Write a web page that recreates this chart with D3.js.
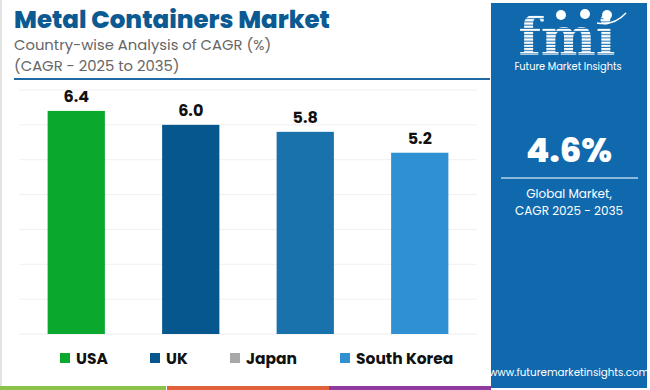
<!DOCTYPE html>
<html>
<head>
<meta charset="utf-8">
<script src="https://cdn.jsdelivr.net/npm/d3@7"></script>
<style>
  body { margin: 0; background: #fff; }
  svg { display: block; font-family: Poppins, "Open Sans", Inter, sans-serif; }
</style>
</head>
<body>
<div id="chart"></div>
<script>
// données du graphique
const countries = ['USA', 'UK', 'Japan', 'South Korea'];
const cagr = [6.4, 6.0, 5.8, 5.2];
const barColors = ['#0aa92e', '#05578e', '#1a72ad', '#2f90d2'];
const legendColors = ['#0aa92e', '#05578e', '#a8a8a8', '#2f90d2'];
const gridTicks = [1, 2, 3, 4, 5, 6, 7];

const width = 650, height = 390;
const svg = d3.select('#chart').append('svg')
    .attr('width', width).attr('height', height);

// bordure gauche légère
svg.append('rect').attr('x', 0).attr('y', 0).attr('width', 2).attr('height', 386).attr('fill', '#e2e2e2');

// titre
svg.append('text').attr('x', 14).attr('y', 28)
    .attr('font-size', 24.5).attr('font-weight', 800).attr('fill', '#0b5a91')
    .text('Metal Containers Market');
svg.append('text').attr('x', 14).attr('y', 50)
    .attr('font-size', 14.8).attr('fill', '#666')
    .text('Country-wise Analysis of CAGR (%)');
svg.append('text').attr('x', 14).attr('y', 71)
    .attr('font-size', 14.8).attr('fill', '#666')
    .text('(CAGR - 2025 to 2035)');
svg.append('line').attr('x1', 14).attr('x2', 490).attr('y1', 79).attr('y2', 79)
    .attr('stroke', '#1f6aa5').attr('stroke-width', 2);

// échelles
const x = d3.scaleBand().domain(countries).range([19, 477])
    .paddingInner(0.5).paddingOuter(0.25);
const y = d3.scaleLinear().domain([0, 7]).range([334, 90]);

// grille
svg.append('g').selectAll('line').data(gridTicks).enter().append('line')
    .attr('x1', 19).attr('x2', 477)
    .attr('y1', d => y(d)).attr('y2', d => y(d))
    .attr('stroke', '#f0f0f0').attr('stroke-width', 1);
svg.append('line').attr('x1', 19).attr('x2', 477).attr('y1', y(0)).attr('y2', y(0))
    .attr('stroke', '#eeeeee');

// barres
svg.append('g').selectAll('rect').data(countries).enter().append('rect')
    .attr('x', d => x(d)).attr('width', x.bandwidth())
    .attr('y', (d, i) => y(cagr[i]))
    .attr('height', (d, i) => y(0) - y(cagr[i]))
    .attr('fill', (d, i) => barColors[i]);

// étiquettes de valeur
svg.append('g').selectAll('text').data(countries).enter().append('text')
    .attr('x', d => x(d) + x.bandwidth() / 2)
    .attr('y', (d, i) => y(cagr[i]) - 9)
    .attr('text-anchor', 'middle').attr('font-size', 16).attr('font-weight', 700)
    .attr('fill', '#111')
    .text((d, i) => cagr[i].toFixed(1));

// légende
const legendX = [60, 150, 230, 340];
const legend = svg.append('g').selectAll('g').data(countries).enter().append('g')
    .attr('transform', (d, i) => `translate(${legendX[i]},358)`);
legend.append('rect').attr('x', 0).attr('y', -5).attr('width', 10).attr('height', 10)
    .attr('fill', (d, i) => legendColors[i]);
legend.append('text').attr('x', 16).attr('y', 6)
    .attr('font-size', 15.5).attr('font-weight', 700).attr('fill', '#111')
    .text(d => d);

// bandes de couleur en bas
const strips = [['#8bc34a', 0, 166], ['#e0623a', 167, 329], ['#8e3a9e', 329, 491]];
svg.append('g').selectAll('rect').data(strips).enter().append('rect')
    .attr('x', d => d[1]).attr('width', d => d[2] - d[1])
    .attr('y', 386).attr('height', 4).attr('fill', d => d[0]);

// panneau de droite
const panel = svg.append('g');
panel.append('rect').attr('x', 491).attr('y', 3).attr('width', 156).attr('height', 385)
    .attr('fill', '#1169ad');

// logo fmi (lettres rayées)
const defs = svg.append('defs');
const pat = defs.append('pattern').attr('id', 'stripes')
    .attr('patternUnits', 'userSpaceOnUse').attr('width', 4).attr('height', 3.2);
pat.append('rect').attr('width', 4).attr('height', 2.2).attr('fill', '#fff');
panel.append('text').attr('x', 567).attr('y', 55).attr('text-anchor', 'middle')
    .attr('font-family', '"DejaVu Serif", serif').attr('font-weight', 700)
    .attr('font-size', 52).attr('fill', 'url(#stripes)')
    .text('fmi');
[[561, 15], [585, 14], [607, 15]].forEach(c => {
    panel.append('circle').attr('cx', c[0]).attr('cy', c[1]).attr('r', 5).attr('fill', '#fff');
});
panel.append('path').attr('d', 'M597,23 Q614,26 626,13')
    .attr('fill', 'none').attr('stroke', '#fff').attr('stroke-width', 1.5);
panel.append('text').attr('x', 568).attr('y', 70).attr('text-anchor', 'middle')
    .attr('font-size', 9.8).attr('fill', '#fff').text('Future Market Insights');

panel.append('text').attr('x', 569).attr('y', 162).attr('text-anchor', 'middle')
    .attr('font-size', 34).attr('font-weight', 800).attr('fill', '#fff').text('4.6%');
panel.append('line').attr('x1', 501).attr('x2', 638).attr('y1', 178).attr('y2', 178)
    .attr('stroke', '#b5d3ee').attr('stroke-width', 1.5);
panel.append('text').attr('x', 569).attr('y', 198).attr('text-anchor', 'middle')
    .attr('font-size', 12).attr('fill', '#fff').text('Global Market,');
panel.append('text').attr('x', 569).attr('y', 215).attr('text-anchor', 'middle')
    .attr('font-size', 12).attr('fill', '#fff').text('CAGR 2025 - 2035');
panel.append('text').attr('x', 569).attr('y', 376).attr('text-anchor', 'middle')
    .attr('font-size', 10.3).attr('fill', '#fff').text('www.futuremarketinsights.com');
</script>
</body>
</html>
